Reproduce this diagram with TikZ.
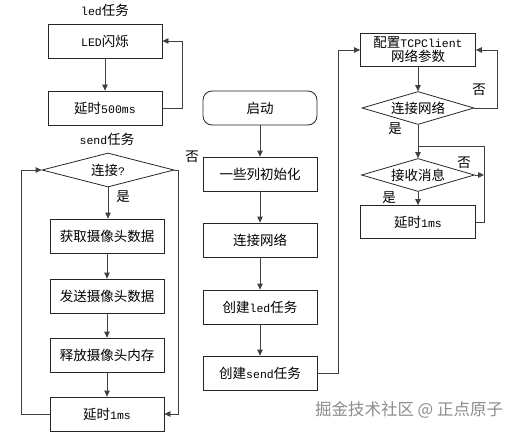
\documentclass[tikz,border=0pt]{standalone}
\usepackage{fontspec}
\setmainfont{Noto Sans CJK SC}
\setmonofont{Liberation Mono}
\usetikzlibrary{shapes.geometric,arrows.meta}
\newcommand\latn[1]{{\ttfamily\fontsize{11.5}{14}\selectfont #1}}
\begin{document}
\begin{tikzpicture}[x=1pt,y=-1pt, font=\fontsize{13.5}{16}\selectfont,
  box/.style={draw=black!85, line width=0.8pt, minimum width=114pt, minimum height=34pt, inner sep=1pt, fill=white},
  dia/.style={draw=black!85, line width=0.8pt, diamond, inner sep=1pt, aspect=3.6},
  arr/.style={draw=black!75, line width=0.8pt, -{Triangle[length=6pt,width=5.5pt]}},
  ln/.style={draw=black!75, line width=0.8pt},
  lab/.style={inner sep=0pt}]
\useasboundingbox (0,0) rectangle (518,433);

% ---- left column: led task
\node[lab] (tled) at (105,10) {\latn{led}任务};
\node[box] (led) at (105,41) {\latn{LED}闪烁};
\node[box] (d500) at (105,108) {延时\latn{500ms}};
\draw[arr] (led) -- (d500);
\coordinate (c1) at (182,108);
\draw[arr] (d500.east) -- (c1) |- (led.east);

% ---- left column: send task
\node[lab] (tsend) at (107,139) {\latn{send}任务};
\node[dia, minimum width=132pt, minimum height=34pt] (conn) at (108,170) {连接\latn{?}};
\node[box] (get) at (107,236) {获取摄像头数据};
\node[box] (snd) at (107,296) {发送摄像头数据};
\node[box] (fre) at (107,355) {释放摄像头内存};
\node[box] (dl1) at (107,414) {延时\latn{1ms}};
\node[lab] (y1) at (123,197) {是};
\node[lab] (n1) at (192,157) {否};
\draw[arr] (conn.south) -- (conn.south |- get.north);
\draw[arr] (get) -- (snd);
\draw[arr] (snd) -- (fre);
\draw[arr] (fre) -- (dl1);
\coordinate (c2) at (21,414);
\draw[arr] (dl1.west) -- (c2) |- (conn.west);
\coordinate (c3) at (178,170);
\draw[arr] (conn.east) -- (c3) |- (dl1.east);

% ---- middle column
\node[box, rounded corners=9pt] (start) at (260,108) {启动};
\node[box] (init) at (260,174) {一些列初始化};
\node[box] (netc) at (260,240) {连接网络};
\node[box] (cled) at (260,307) {创建\latn{led}任务};
\node[box] (csend) at (260,373) {创建\latn{send}任务};
\draw[arr] (start) -- (init);
\draw[arr] (init) -- (netc);
\draw[arr] (netc) -- (cled);
\draw[arr] (cled) -- (csend);

% ---- right column
\node[box, minimum width=115pt, minimum height=33pt, align=center] (cfg) at (418,50) {配置\latn{TCPClient}\\[-2pt]网络参数};
\coordinate (c4) at (338,373);
\draw[arr] (csend.east) -- (c4) |- (cfg.west);
\node[dia, minimum width=112pt, minimum height=33pt] (d2) at (418,108) {连接网络};
\draw[arr] (cfg) -- (d2);
\coordinate (c5) at (497,108);
\draw[arr] (d2.east) -- (c5) |- (cfg.east);
\node[lab] (n2) at (479,90) {否};
\node[lab] (y2) at (395,129) {是};
\coordinate (J) at (418,146);
\node[dia, minimum width=113pt, minimum height=33pt] (d3) at (418,175) {接收消息};
\draw[ln] (d2.south) -- (J);
\draw[arr] (J) -- (d3.north);
\node[lab] (n3) at (464,163) {否};
\node[lab] (y3) at (389,198) {是};
\node[box, minimum width=115pt, minimum height=33pt] (dl2) at (418,222) {延时\latn{1ms}};
\draw[arr] (d3) -- (dl2);
\coordinate (c6) at (484,222);
\coordinate (c7) at (484,146);
\coordinate (c8) at (484,175);
\draw[ln] (dl2.east) -- (c6) -- (c7) -- (J);
\draw[arr] (d3.east) -- (c8);

% ---- watermark
\node[lab, text=black!45, font=\fontsize{16.5}{18}\selectfont] (wm) at (409,410) {掘金技术社区 @ 正点原子};
\end{tikzpicture}
\end{document}
